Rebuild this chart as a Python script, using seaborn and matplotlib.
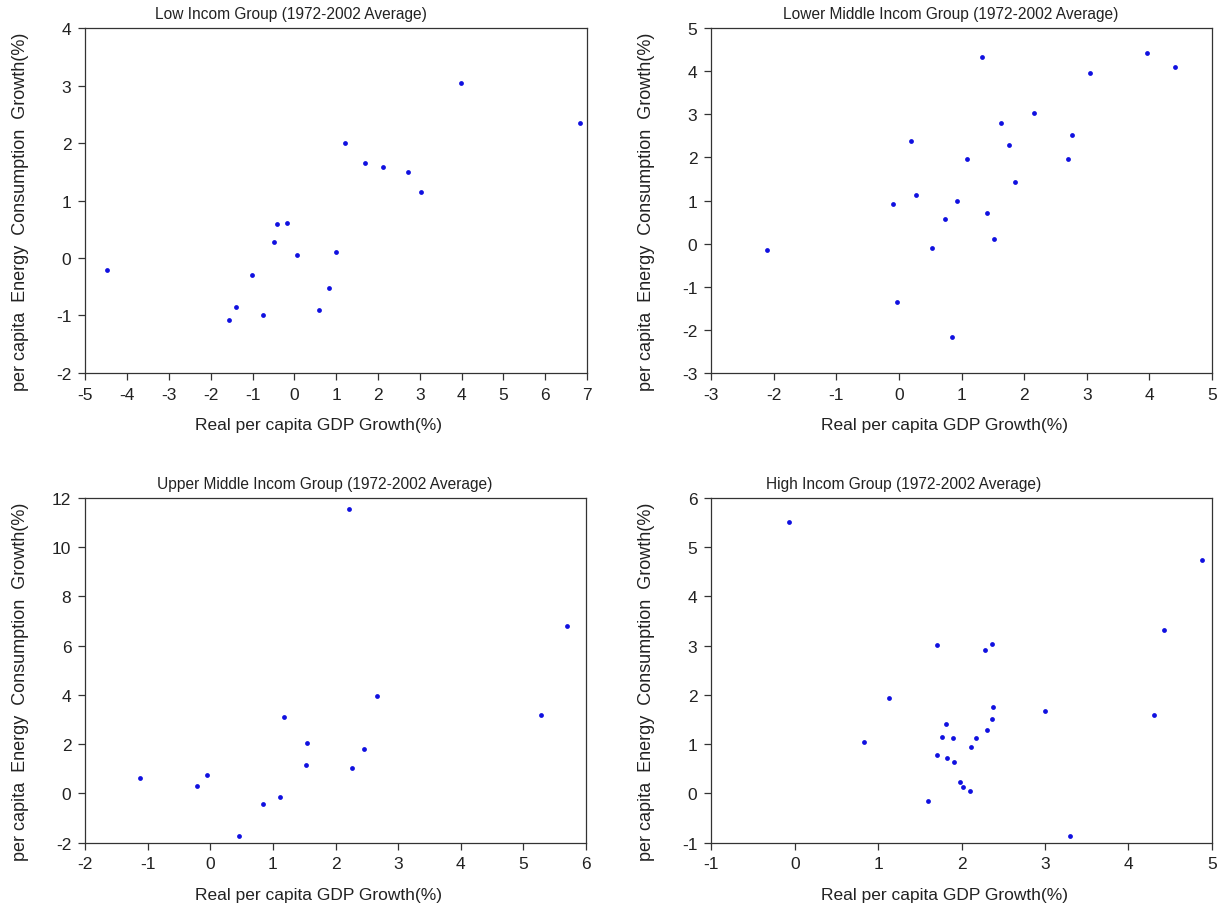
import matplotlib
matplotlib.use("Agg")
import matplotlib.pyplot as plt
import seaborn as sns
import pandas as pd

# Data
low_gdp = [-4.47, -1.57, -1.40, -1.01, -0.74, -0.48, -0.41, -0.17, 0.07, 0.60,
           0.82, 1.00, 1.21, 1.69, 2.12, 2.71, 3.04, 3.98, 6.83]
low_energy = [-0.21, -1.08, -0.86, -0.29, -1.00, 0.28, 0.60, 0.61, 0.06, -0.90,
              -0.52, 0.10, 2.00, 1.66, 1.59, 1.49, 1.15, 3.04, 2.35]

lower_mid_gdp = [-2.11, -0.09, -0.03, 0.19, 0.27, 0.52, 0.73, 0.85, 0.93, 1.09, 1.33,
                 1.41, 1.51, 1.63, 1.75, 1.86, 2.16, 2.70, 2.76, 3.05, 3.96, 4.41]
lower_mid_energy = [-0.15, 0.91, -1.35, 2.38, 1.12, -0.10, 0.58, -2.17, 1.00, 1.96, 4.32,
                    0.71, 0.11, 2.79, 2.28, 1.42, 3.03, 1.96, 2.51, 3.96, 4.43, 4.09]

upper_mid_gdp = [-1.12, -0.22, -0.06, 0.45, 0.84, 1.12, 1.18, 1.52, 1.55, 2.22,
                 2.26, 2.46, 2.67, 5.28, 5.70]
upper_mid_energy = [0.63, 0.29, 0.74, -1.72, -0.42, -0.14, 3.10, 1.17, 2.05, 11.54,
                    1.02, 1.80, 3.94, 3.17, 6.79]

high_gdp = [-0.07, 0.83, 1.13, 1.60, 1.70, 1.70, 1.77, 1.81, 1.82, 1.90, 1.91, 1.98, 2.02,
            2.10, 2.11, 2.17, 2.28, 2.31, 2.36, 2.37, 2.38, 3.00, 3.30, 4.30, 4.43, 4.88]
high_energy = [5.51, 1.05, 1.93, -0.16, 3.02, 0.78, 1.15, 1.41, 0.71, 1.12, 0.64, 0.23, 0.13,
               0.05, 0.94, 1.13, 2.92, 1.28, 3.03, 1.51, 1.75, 1.67, -0.86, 1.60, 3.31, 4.73]

titles = ["Low Incom Group (1972-2002 Average)",
          "Lower Middle Incom Group (1972-2002 Average)",
          "Upper Middle Incom Group (1972-2002 Average)",
          "High Incom Group (1972-2002 Average)"]

sns.set_style("ticks")
plt.rcParams['font.family'] = ['Liberation Sans', 'DejaVu Sans']
plt.rcParams['axes.unicode_minus'] = False

fig = plt.figure(figsize=(12.18, 9.12), dpi=100)

boxes = [[0.070, 0.590, 0.412, 0.378],
         [0.584, 0.590, 0.411, 0.378],
         [0.070, 0.075, 0.411, 0.378],
         [0.584, 0.075, 0.411, 0.378]]
panels = [(low_gdp, low_energy), (lower_mid_gdp, lower_mid_energy),
          (upper_mid_gdp, upper_mid_energy), (high_gdp, high_energy)]
xlims = [(-5, 7), (-3, 5), (-2, 6), (-1, 5)]
ylims = [(-2, 4), (-3, 5), (-2, 12), (-1, 6)]
yticks = [range(-2, 5), range(-3, 6), range(-2, 13, 2), range(-1, 7)]
title_x = [0.41, 0.478, 0.478, 0.384]

for i, (gdp, energy) in enumerate(panels):
    ax = fig.add_axes(boxes[i])
    df = pd.DataFrame({"gdp": gdp, "energy": energy})
    sns.scatterplot(data=df, x="gdp", y="energy", ax=ax, color="#1010e0",
                    s=12, linewidth=0)
    ax.set_xlim(*xlims[i])
    ax.set_ylim(*ylims[i])
    ax.set_xticks(range(xlims[i][0], xlims[i][1] + 1))
    ax.set_yticks(list(yticks[i]))
    for sp in ax.spines.values():
        sp.set_visible(True)
        sp.set_linewidth(0.9)
        sp.set_color("#333333")
    ax.tick_params(labelsize=12.5, length=5, width=0.9, pad=5, color="#333333",
                   labelcolor="#222222")
    ax.set_xlabel("Real per capita GDP Growth(%)", fontsize=12.5, color="#222222")
    ax.set_ylabel("per capita  Energy  Consumption  Growth(%)", fontsize=13,
                  color="#222222")
    ax.xaxis.set_label_coords(0.465, -0.128)
    ax.yaxis.set_label_coords(-0.112, 0.47)
    ax.set_title(titles[i], fontsize=11.2, x=title_x[i], pad=7, color="#222222")

fig.savefig("out.png", dpi=100)
